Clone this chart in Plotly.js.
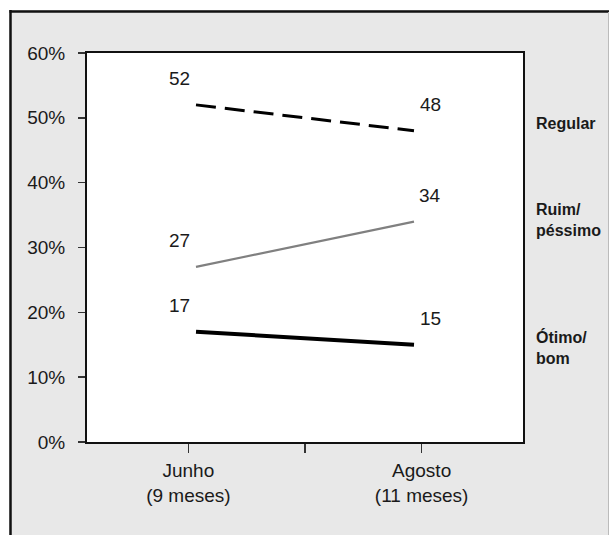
<!DOCTYPE html>
<html>
<head>
<meta charset="utf-8">
<script src="https://cdn.plot.ly/plotly-3.0.1.min.js"></script>
<style>
  html, body { margin: 0; padding: 0; background: #ffffff; }
  #chart { width: 609px; height: 535px; }
</style>
</head>
<body>
<div id="chart"></div>
<script>
// ---- data ----
const categories = ["Junho<br>(9 meses)", "Agosto<br>(11 meses)"];
const seriesNames = ["Regular", "Ruim/<br>péssimo", "Ótimo/<br>bom"];
const regular = [52, 48];
const ruimPessimo = [27, 34];
const otimoBom = [17, 15];
const yTickVals = [0, 10, 20, 30, 40, 50, 60];
const yTickText = ["0%", "10%", "20%", "30%", "40%", "50%", "60%"];

// ---- layout geometry (pixels) ----
const W = 609, H = 535;
const L = 87, R = 523, T = 53, B = 442;
const pw = R - L, ph = B - T;
const px2x = X => (X - L) / pw;
const px2y = Y => (B - Y) / ph;

const FONT = "Liberation Sans, Arial, sans-serif";
const xIdx = categories.map((c, i) => i);

const series = [
  { name: seriesNames[0], y: regular, color: "#000000", width: 3, dash: "20px,9px" },
  { name: seriesNames[1], y: ruimPessimo, color: "#808080", width: 2.2, dash: "solid" },
  { name: seriesNames[2], y: otimoBom, color: "#000000", width: 4, dash: "solid" }
];

const traces = series.map(s => ({
  type: "scatter",
  mode: "lines",
  x: xIdx,
  y: s.y,
  line: { color: s.color, width: s.width, dash: s.dash },
  hoverinfo: "skip",
  showlegend: false
}));

const annotations = [];
const rightShift = [7, 2, -3];
series.forEach((s, k) => {
  s.y.forEach((v, i) => {
    annotations.push({
      x: xIdx[i], y: v, xref: "x", yref: "y",
      text: String(v), showarrow: false,
      xshift: i === 0 ? -17 : 16, yshift: 26,
      font: { family: FONT, size: 19, color: "#1a1a1a" }
    });
  });
  annotations.push({
    x: 1, xref: "paper", y: s.y[s.y.length - 1], yref: "y",
    xanchor: "left", yanchor: "middle", align: "left",
    xshift: 11, yshift: rightShift[k],
    text: "<b>" + s.name + "</b>", showarrow: false,
    font: { family: FONT, size: 16, color: "#1a1a1a" }
  });
});

const shapes = [
  // white outside strips
  { type: "rect", xref: "paper", yref: "paper", x0: px2x(-5), x1: px2x(9.5), y0: px2y(-5), y1: px2y(W), fillcolor: "#ffffff", line: { width: 0 }, layer: "below" },
  { type: "rect", xref: "paper", yref: "paper", x0: px2x(-5), x1: px2x(W + 5), y0: px2y(-5), y1: px2y(10), fillcolor: "#ffffff", line: { width: 0 }, layer: "below" },
  // outer frame
  { type: "line", xref: "paper", yref: "paper", x0: px2x(10.5), x1: px2x(10.5), y0: px2y(10), y1: px2y(H + 5), line: { color: "#111111", width: 2.5 } },
  { type: "line", xref: "paper", yref: "paper", x0: px2x(9.5), x1: px2x(W + 5), y0: px2y(11.5), y1: px2y(11.5), line: { color: "#111111", width: 2.5 } },
  { type: "line", xref: "paper", yref: "paper", x0: px2x(608.5), x1: px2x(608.5), y0: px2y(12), y1: px2y(H + 5), line: { color: "#bbbbbb", width: 1 } }
];

const layout = {
  width: W, height: H,
  margin: { l: L, r: W - R, t: T, b: H - B, pad: 0 },
  paper_bgcolor: "#e8e8e8",
  plot_bgcolor: "#ffffff",
  font: { family: FONT, size: 19, color: "#1a1a1a" },
  showlegend: false,
  xaxis: {
    range: [-0.5, 1.5],
    tickmode: "array",
    tickvals: [-0.035, 0.5, 1.035],
    ticktext: [categories[0], "", categories[1]],
    ticks: "outside", ticklen: 9, tickwidth: 1.5, tickcolor: "#333333",
    ticklabelstandoff: 1,
    showline: true, mirror: true, linecolor: "#111111", linewidth: 2,
    showgrid: false, zeroline: false, fixedrange: true,
    tickfont: { family: FONT, size: 19, color: "#1a1a1a" }
  },
  yaxis: {
    range: [0, 60],
    tickmode: "array",
    tickvals: yTickVals,
    ticktext: yTickText,
    ticks: "outside", ticklen: 7, tickwidth: 1.5, tickcolor: "#333333",
    ticklabelstandoff: 9,
    showline: true, mirror: true, linecolor: "#111111", linewidth: 2,
    showgrid: false, zeroline: false, fixedrange: true,
    tickfont: { family: FONT, size: 19, color: "#1a1a1a" }
  },
  annotations: annotations,
  shapes: shapes
};

Plotly.newPlot("chart", traces, layout, { displayModeBar: false, staticPlot: true });
</script>
</body>
</html>
